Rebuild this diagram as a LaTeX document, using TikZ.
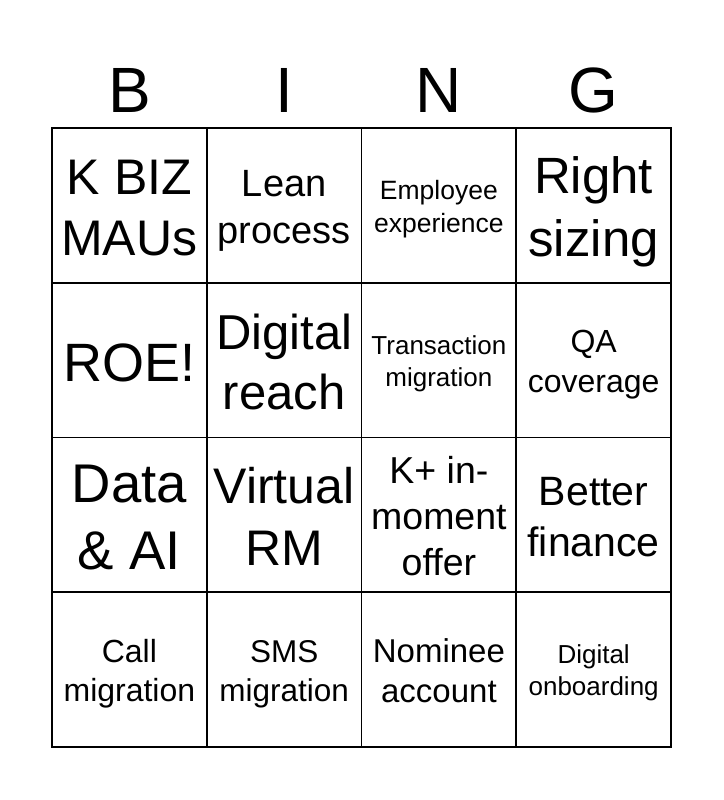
\documentclass[tikz,border=0pt]{standalone}
\usepackage{fontspec}
\setmainfont{Liberation Sans}
\newcommand{\cellfont}[1]{\fontsize{#1}{\fpeval{1.23*#1}}\selectfont}
\begin{document}
\begin{tikzpicture}[x=1pt, y=-1pt]
        \tikzset{cell/.style={draw, line width=1.8pt, minimum size=154.75pt, inner sep=0pt, align=center}}
        \useasboundingbox (0,0) rectangle (723,800);
        \foreach \c/\l in {0/B, 1/I, 2/N, 3/G}{
        \node[anchor=base, font=\cellfont{64}] (head\c) at (129.4+154.75*\c, 112) {\l};
        }
        \foreach \c/\r/\s/\t in {0/0/50/{K BIZ\\MAUs}, 1/0/38/{Lean\\process}, 2/0/26.5/{Employee\\experience}, 3/0/51/{Right\\sizing},
        0/1/54/{ROE!}, 1/1/49/{Digital\\reach}, 2/1/26/{Transaction\\migration}, 3/1/32/{QA\\coverage},
        0/2/54.5/{Data\\\& AI}, 1/2/50/{Virtual\\RM}, 2/2/37.5/{K+ in-\\moment\\offer}, 3/2/41/{Better\\finance},
        0/3/32/{Call\\migration}, 1/3/31.5/{SMS\\migration}, 2/3/33/{Nominee\\account}, 3/3/26/{Digital\\onboarding}}{
        \node[cell, font=\cellfont{\s}] (cell\c\r) at (129.4+154.75*\c, 205.4+154.75*\r) {\rule{0pt}{1em}\t\rule[-.22em]{0pt}{.22em}};
        }
\end{tikzpicture}
\end{document}
